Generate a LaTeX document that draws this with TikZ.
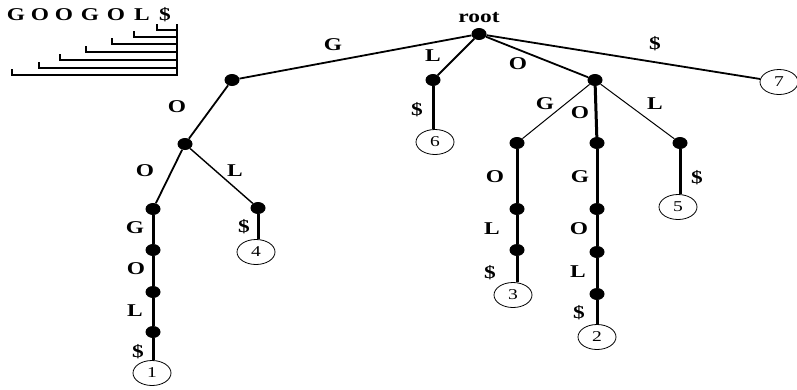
\documentclass[tikz,border=0pt]{standalone}
\usepackage{fontspec}
\setmainfont{Liberation Serif}[FakeStretch=1.3]
\usetikzlibrary{shapes.geometric}
\begin{document}
\begin{tikzpicture}
    [
        x=1pt,
        y=-1pt,
        site/.style={
                ellipse,
                inner sep=0pt,
                minimum width=15pt,
                minimum height=12pt,
                fill=black,
            },
        leaf/.style={
                ellipse,
                draw=black,
                line width=0.8pt,
                inner sep=0pt,
                minimum width=38pt,
                minimum height=25pt,
                font=\fontsize{15}{15}\selectfont,
            },
        letter/.style={
                inner sep=0pt,
                font=\bfseries\fontsize{18}{18}\selectfont,
            },
        arc/.style={line width=#1},
    ]
    \useasboundingbox (0,0) rectangle (797,389);

    % suffixes of the word
    \foreach \c/\x [count=\i] in {G/16, O/40, O/64, G/90, O/116, L/142, \$/165}
        \node [letter] (w\i) at (\x,15) {\c};
    \draw [line width=1.2pt] (177,24) -- (177,76);
    \foreach \x/\y in {157/30, 134/37, 112/44, 86/52, 60/60, 39/68, 12/75}
        \draw [line width=1.2pt] (\x,\y-6) |- (177,\y);

    % tree nodes
    \node [site] (root) at (479,34) {};
    \node [letter] (rootlabel) at (479,18) {root};
    \node [site] (g) at (232,80) {};
    \node [site] (go) at (185,144) {};
    \node [site] (goo) at (153,209) {};
    \node [site] (goog) at (153,250) {};
    \node [site] (googo) at (153,292) {};
    \node [site] (googol) at (153,332) {};
    \node [site] (gol) at (258,208) {};
    \node [site] (l) at (433,80) {};
    \node [site] (o) at (595,80) {};
    \node [site] (og) at (517,143) {};
    \node [site] (ogo) at (517,209) {};
    \node [site] (ogol) at (517,250) {};
    \node [site] (oo) at (597,143) {};
    \node [site] (oog) at (597,209) {};
    \node [site] (oogo) at (597,252) {};
    \node [site] (oogol) at (597,294) {};
    \node [site] (ol) at (680,143) {};

    % leaves
    \node [leaf] (s1) at (152,373) {1};
    \node [leaf] (s2) at (597,337) {2};
    \node [leaf] (s3) at (513,295) {3};
    \node [leaf] (s4) at (256,252) {4};
    \node [leaf] (s5) at (678,207) {5};
    \node [leaf] (s6) at (435,142) {6};
    \node [leaf] (s7) at (779,82) {7};

    % edges
    \draw [arc=1.8pt] (root) -- (g);
    \draw [arc=1.8pt] (root) -- (l);
    \draw [arc=1.8pt] (root) -- (o);
    \draw [arc=1.8pt] (root) -- (s7);
    \draw [arc=1.8pt] (g) -- (go);
    \draw [arc=1.8pt] (go) -- (goo);
    \draw [arc=1.4pt] (go) -- (gol);
    \draw [arc=1pt] (o) -- (og);
    \draw [arc=1pt] (o) -- (ol);
    \draw [arc=3pt] (o) -- (oo);
    \draw [arc=3pt] (goo) -- (goog) -- (googo) -- (googol) -- (googol |- s1.north);
    \draw [arc=3pt] (gol) -- (gol |- s4.north);
    \draw [arc=3pt] (l) -- (l |- s6.north);
    \draw [arc=3pt] (og) -- (ogo) -- (ogol) -- (ogol |- s3.north);
    \draw [arc=3pt] (oo) -- (oog) -- (oogo) -- (oogol) -- (s2);
    \draw [arc=3pt] (ol) -- (ol |- s5.north);

    % edge labels
    \node [letter] (e1) at (333,45) {G};
    \node [letter] (e2) at (433,56) {L};
    \node [letter] (e3) at (518,64) {O};
    \node [letter] (e4) at (655,44) {\$};
    \node [letter] (e5) at (177,107) {O};
    \node [letter] (e6) at (145,171) {O};
    \node [letter] (e7) at (235,171) {L};
    \node [letter] (e8) at (135,228) {G};
    \node [letter] (e9) at (136,269) {O};
    \node [letter] (e10) at (135,311) {L};
    \node [letter] (e11) at (138,352) {\$};
    \node [letter] (e12) at (244,227) {\$};
    \node [letter] (e13) at (417,110) {\$};
    \node [letter] (e14) at (545,104) {G};
    \node [letter] (e15) at (580,113) {O};
    \node [letter] (e16) at (655,104) {L};
    \node [letter] (e17) at (495,177) {O};
    \node [letter] (e18) at (492,229) {L};
    \node [letter] (e19) at (490,273) {\$};
    \node [letter] (e20) at (580,177) {G};
    \node [letter] (e21) at (579,229) {O};
    \node [letter] (e22) at (578,272) {L};
    \node [letter] (e23) at (579,313) {\$};
    \node [letter] (e24) at (697,178) {\$};
\end{tikzpicture}
\end{document}
